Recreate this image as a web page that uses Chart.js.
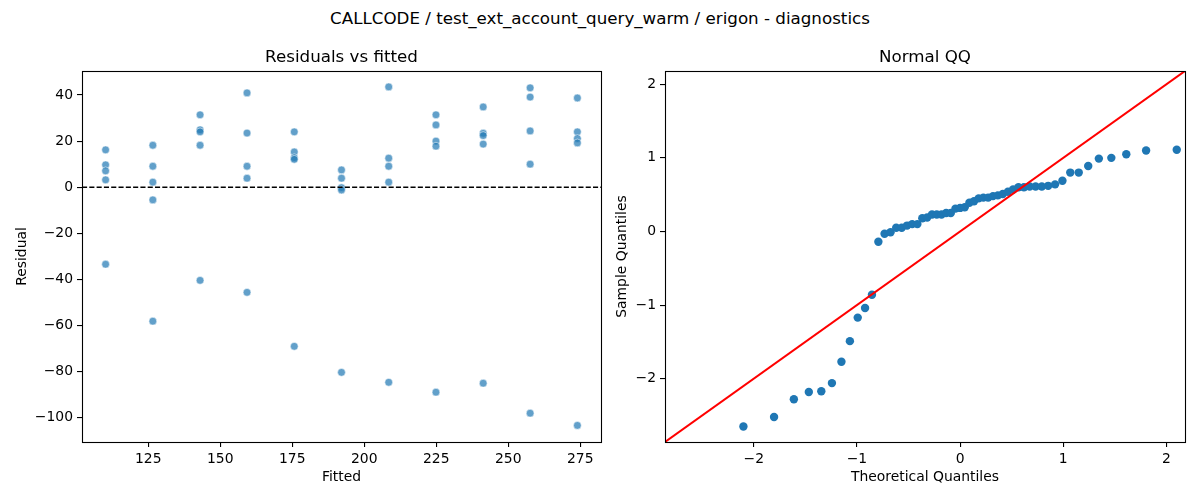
<!DOCTYPE html>
<html>
<head>
<meta charset="utf-8">
<script src="https://cdn.jsdelivr.net/npm/chart.js@4.4.1/dist/chart.umd.min.js"></script>
<style>
  html, body { margin: 0; padding: 0; background: #fff; }
  body { width: 1200px; height: 500px; position: relative; overflow: hidden; font-family: "DejaVu Sans", sans-serif; }
  #suptitle { position: absolute; left: 0; top: 8px; width: 1200px; text-align: center; font-size: 16.7px; line-height: 20px; color: #000; }
  .box { position: absolute; top: 0; height: 500px; }
</style>
</head>
<body>
<div id="suptitle">CALLCODE / test_ext_account_query_warm / erigon - diagnostics</div>
<div class="box" style="left:0; width:610px"><canvas id="resid"></canvas></div>
<div class="box" style="left:610px; width:590px"><canvas id="qq"></canvas></div>
<script>
// residuals vs fitted: one fitted level per column, five residuals each
const fittedLevels = [110.2, 126.6, 143.0, 159.3, 175.7, 192.1, 208.5, 224.9, 241.3, 257.6, 274.0];
const residualGroups = [
  [16.2, 9.7, 7.1, 3.2, -33.4],
  [18.2, 9.1, 2.2, -5.5, -58.1],
  [31.4, 24.9, 24.0, 18.2, -40.4],
  [40.9, 23.5, 9.1, 3.9, -45.6],
  [24.0, 15.3, 12.8, 12.1, -69.0],
  [7.5, 3.9, -0.2, -1.2, -80.3],
  [43.5, 12.6, 9.1, 2.2, -84.6],
  [31.4, 27.0, 20.0, 17.8, -88.9],
  [34.8, 23.4, 22.4, 18.7, -85.0],
  [43.1, 39.1, 24.4, 10.0, -98.0],
  [38.7, 24.0, 21.1, 19.2, -103.3]
];
const residXTicks = [125, 150, 175, 200, 225, 250, 275];
const residYTicks = [-100, -80, -60, -40, -20, 0, 20, 40];
const residXRange = [102.0, 282.2];
const residYRange = [-110.5, 50.4];

// normal QQ
const theoreticalQ = [-2.100, -1.803, -1.611, -1.466, -1.345, -1.242, -1.150, -1.068, -0.992, -0.921,
  -0.854, -0.792, -0.732, -0.674, -0.619, -0.566, -0.514, -0.464, -0.414, -0.366,
  -0.319, -0.272, -0.226, -0.180, -0.135, -0.090, -0.045, 0.000, 0.045, 0.090,
  0.135, 0.180, 0.226, 0.272, 0.319, 0.366, 0.414, 0.464, 0.514, 0.566,
  0.619, 0.674, 0.732, 0.792, 0.854, 0.921, 0.992, 1.068, 1.150, 1.242,
  1.345, 1.466, 1.611, 1.803, 2.100];
const sampleQ = [-2.65, -2.52, -2.28, -2.18, -2.17, -2.06, -1.77, -1.49, -1.17, -1.04,
  -0.86, -0.14, -0.03, -0.01, 0.05, 0.05, 0.08, 0.10, 0.10, 0.18,
  0.19, 0.23, 0.23, 0.23, 0.25, 0.25, 0.31, 0.32, 0.33, 0.39,
  0.41, 0.45, 0.46, 0.46, 0.48, 0.49, 0.51, 0.54, 0.57, 0.60,
  0.60, 0.61, 0.61, 0.61, 0.62, 0.64, 0.69, 0.80, 0.80, 0.89,
  0.99, 1.00, 1.05, 1.10, 1.11];
const qqTicks = [-2, -1, 0, 1, 2];
const qqRange = [-2.86, 2.18];

Chart.defaults.font.family = '"DejaVu Sans", sans-serif';
Chart.defaults.font.size = 13.9;
Chart.defaults.color = '#000';

// box around the plot area and the subplot title above it
const frame = {
  id: 'frame',
  afterDraw(chart, args, opts) {
    const a = chart.chartArea, ctx = chart.ctx;
    ctx.save();
    ctx.strokeStyle = '#000';
    ctx.lineWidth = 1.1;
    ctx.strokeRect(Math.round(a.left) + 0.5, Math.round(a.top) + 0.5,
      Math.round(a.right - a.left), Math.round(a.bottom - a.top));
    ctx.font = '16.7px "DejaVu Sans", sans-serif';
    ctx.fillStyle = '#000';
    ctx.textAlign = 'center';
    ctx.textBaseline = 'alphabetic';
    ctx.fillText(opts.title, (a.left + a.right) / 2, a.top - 9);
    ctx.restore();
  }
};

function minus(v) { return String(v).replace('-', '\u2212'); }

function axis(pos, ticks, range, title, size) {
  return {
    type: 'linear', position: pos, min: range[0], max: range[1],
    border: { display: false },
    grid: { drawOnChartArea: false, drawTicks: true, tickLength: 5, color: '#000', lineWidth: 1.1 },
    ticks: { padding: 4, color: '#000', autoSkip: false, maxRotation: 0, callback: minus },
    title: { display: true, text: title, color: '#000', padding: 4 },
    afterBuildTicks: s => { s.ticks = ticks.map(v => ({ value: v })); },
    afterFit: s => { if (pos === 'left') s.width = size; else s.height = size; }
  };
}

const residPoints = [];
fittedLevels.forEach((f, i) => residualGroups[i].forEach(r => residPoints.push({ x: f, y: r })));

new Chart(document.getElementById('resid'), {
  type: 'scatter',
  data: {
    datasets: [{
      type: 'line',
      data: [{ x: residXRange[0], y: 0 }, { x: residXRange[1], y: 0 }],
      showLine: true, borderColor: '#000', borderWidth: 1.4, borderDash: [5.1, 2.2],
      pointRadius: 0, order: 0
    }, {
      data: residPoints,
      backgroundColor: 'rgba(31,119,180,0.7)', borderColor: 'rgba(255,255,255,0.7)',
      borderWidth: 0.75, pointRadius: 3.9, order: 1
    }]
  },
  options: {
    responsive: true, maintainAspectRatio: false, animation: false, events: [],
    layout: { padding: { left: 9.7, top: 71, right: 9, bottom: 10.7 } },
    plugins: { legend: { display: false }, tooltip: { enabled: false }, frame: { title: 'Residuals vs fitted' } },
    scales: {
      x: axis('bottom', residXTicks, residXRange, 'Fitted', 47.3),
      y: axis('left', residYTicks, residYRange, 'Residual', 72.3)
    }
  },
  plugins: [frame]
});

new Chart(document.getElementById('qq'), {
  type: 'scatter',
  data: {
    datasets: [{
      type: 'line',
      data: [{ x: qqRange[0], y: qqRange[0] }, { x: qqRange[1], y: qqRange[1] }],
      showLine: true, borderColor: '#ff0000', borderWidth: 2, pointRadius: 0, order: 0
    }, {
      data: theoreticalQ.map((t, i) => ({ x: t, y: sampleQ[i] })),
      backgroundColor: '#1f77b4', borderColor: '#1f77b4', borderWidth: 0,
      pointRadius: 4.2, order: 1
    }]
  },
  options: {
    responsive: true, maintainAspectRatio: false, animation: false, events: [],
    layout: { padding: { left: 0, top: 71, right: 15, bottom: 10.7 } },
    plugins: { legend: { display: false }, tooltip: { enabled: false }, frame: { title: 'Normal QQ' } },
    scales: {
      x: axis('bottom', qqTicks, qqRange, 'Theoretical Quantiles', 47.3),
      y: axis('left', qqTicks, qqRange, 'Sample Quantiles', 55)
    }
  },
  plugins: [frame]
});
</script>
</body>
</html>
